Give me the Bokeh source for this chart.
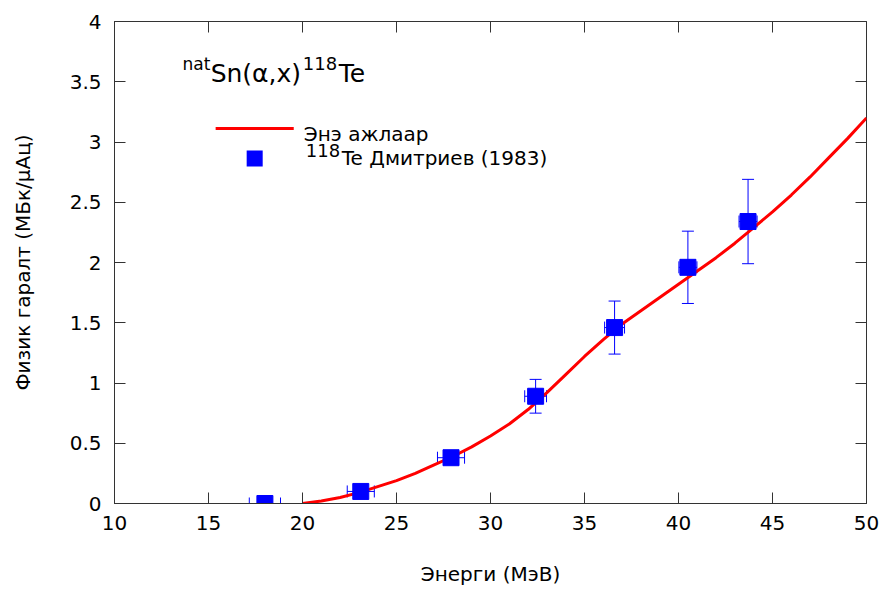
from bokeh.plotting import figure
from bokeh.models import (ColumnDataSource, Whisker, TeeHead, Label, BoxAnnotation,
                          LinearAxis, FixedTicker)
from bokeh.embed import file_html
from bokeh.resources import INLINE

# ---- data ----
curve_energy = [20, 21, 22, 23, 24, 25, 26, 27, 28, 29, 30, 31, 32, 33, 34, 35,
                36, 37, 38, 39, 40, 41, 42, 43, 44, 45, 46, 47, 48, 49, 50]
curve_yield = [0.00, 0.02, 0.05, 0.09, 0.14, 0.19, 0.25, 0.32, 0.39, 0.47, 0.56,
               0.66, 0.78, 0.92, 1.07, 1.22, 1.36, 1.49, 1.60, 1.71, 1.82, 1.93,
               2.04, 2.16, 2.29, 2.42, 2.56, 2.71, 2.87, 3.03, 3.20]

exp_energy = [18.0, 23.1, 27.9, 32.4, 36.6, 40.5, 43.7]
exp_yield = [0.00, 0.10, 0.38, 0.89, 1.46, 1.96, 2.34]
exp_yerr = [0.00, 0.04, 0.04, 0.14, 0.22, 0.30, 0.35]
exp_xerr = [0.83, 0.72, 0.72, 0.58, 0.53, 0.48, 0.48]

x_ticks = [10, 15, 20, 25, 30, 35, 40, 45, 50]
y_ticks = [0, 0.5, 1, 1.5, 2, 2.5, 3, 3.5, 4]

FONT = "DejaVu Sans"
AX = "#333333"

p = figure(width=883, height=590, output_backend="svg", toolbar_location=None,
           x_range=(10, 50), y_range=(0, 4),
           min_border_left=114, min_border_right=17, min_border_top=21,
           min_border_bottom=87)
p.background_fill_color = "white"
p.border_fill_color = "white"
p.outline_line_color = AX
p.outline_line_width = 1
p.xgrid.visible = False
p.ygrid.visible = False

for ax in (p.xaxis[0], p.yaxis[0]):
    ax.major_tick_in = 11
    ax.major_tick_out = 0
    ax.minor_tick_line_color = None
    ax.axis_line_color = AX
    ax.major_tick_line_color = AX
    ax.major_label_text_font = FONT
    ax.major_label_text_font_size = "20px"
    ax.major_label_text_color = "black"
    ax.axis_label_text_font = FONT
    ax.axis_label_text_font_size = "20px"
    ax.axis_label_text_font_style = "normal"
    ax.axis_label_text_color = "black"

p.xaxis[0].ticker = FixedTicker(ticks=x_ticks)
p.yaxis[0].ticker = FixedTicker(ticks=y_ticks)
p.xaxis[0].axis_label = "Энерги (МэВ)"
p.yaxis[0].axis_label = "Физик гаралт (МБк/μАц)"
p.xaxis[0].major_label_standoff = 12
p.yaxis[0].major_label_standoff = 13
p.xaxis[0].axis_label_standoff = 29
p.yaxis[0].axis_label_standoff = 32

# mirrored ticks (no labels drawn)
top = LinearAxis(ticker=FixedTicker(ticks=x_ticks), major_tick_in=11, major_tick_out=0,
                 minor_tick_line_color=None, axis_line_color=None,
                 major_tick_line_color=AX, major_label_text_color=None,
                 major_label_text_alpha=0, major_label_text_font_size="1px",
                 major_label_standoff=0)
right = LinearAxis(ticker=FixedTicker(ticks=y_ticks), major_tick_in=11, major_tick_out=0,
                   minor_tick_line_color=None, axis_line_color=None,
                   major_tick_line_color=AX, major_label_text_color=None,
                   major_label_text_alpha=0, major_label_text_font_size="1px",
                   major_label_standoff=0)
p.add_layout(top, "above")
p.add_layout(right, "right")

# ---- curve ----
p.line(curve_energy, curve_yield, line_color="#ff0000", line_width=3)

# ---- experimental points ----
src = ColumnDataSource(dict(
    x=exp_energy, y=exp_yield,
    ylo=[y - e for y, e in zip(exp_yield, exp_yerr)],
    yhi=[y + e for y, e in zip(exp_yield, exp_yerr)],
    xlo=[x - e for x, e in zip(exp_energy, exp_xerr)],
    xhi=[x + e for x, e in zip(exp_energy, exp_xerr)],
))
vw = Whisker(source=src, base="x", lower="ylo", upper="yhi", dimension="height",
             line_color="#0000ff", line_width=1,
             lower_head=TeeHead(size=12, line_color="#0000ff", line_width=1),
             upper_head=TeeHead(size=12, line_color="#0000ff", line_width=1))
hw = Whisker(source=src, base="y", lower="xlo", upper="xhi", dimension="width",
             line_color="#0000ff", line_width=1,
             lower_head=TeeHead(size=12, line_color="#0000ff", line_width=1),
             upper_head=TeeHead(size=12, line_color="#0000ff", line_width=1))
p.add_layout(vw)
p.add_layout(hw)
p.scatter("x", "y", source=src, marker="square", size=16,
          fill_color="#0000ff", line_color="#0000ff")


# ---- annotations (pixel -> data helpers for placement) ----
def X(px):
    return 10 + (px - 114) / (751 / 40)


def Y(py):
    return (503 - py) / (482 / 4)


def lab(text, px, py, size):
    p.add_layout(Label(x=X(px), y=Y(py), text=text, text_font=FONT,
                       text_font_size=size, text_color="black",
                       text_baseline="alphabetic", text_align="left"))


# title with superscripts
lab("nat", 182, 63, "17px")
lab("Sn(α,x)", 210, 73, "25px")
lab("118", 302, 63, "18px")
lab("Te", 338, 73, "25px")

# legend
p.add_layout(BoxAnnotation(left=X(215), right=X(293), bottom=Y(129.5), top=Y(126.5),
                           fill_color="#ff0000", fill_alpha=1, line_color=None))
p.add_layout(BoxAnnotation(left=X(246), right=X(262), bottom=Y(166), top=Y(150),
                           fill_color="#0000ff", fill_alpha=1, line_color=None))
lab("Энэ ажлаар", 303, 133, "20px")
lab("118", 305, 150, "18px")
lab("Te Дмитриев (1983)", 341, 157, "20px")

open("out.html", "w").write(file_html(p, INLINE))
